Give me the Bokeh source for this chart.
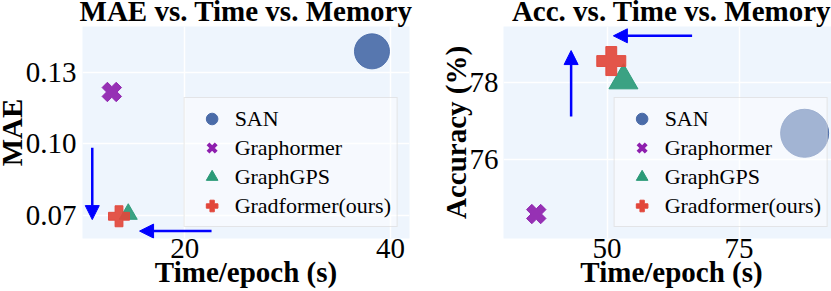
import math
from bokeh.plotting import figure
from bokeh.layouts import row
from bokeh.models import Arrow, NormalHead, FixedTicker, PrintfTickFormatter, Range1d, LegendItem, Legend
from bokeh.embed import file_html
from bokeh.resources import INLINE

# ---------------- data ----------------
models = ["SAN", "Graphormer", "GraphGPS", "Gradformer(ours)"]

mae_time = [38.2, 12.9, 14.5, 13.6]
mae_values = [0.1387, 0.1217, 0.0706, 0.0697]
mae_y_ticks = [0.07, 0.10, 0.13]
mae_x_ticks = [20, 40]

acc_time = [87.4, 36.6, 53.1, 50.8]
acc_values = [76.68, 74.60, 78.04, 78.54]
acc_y_ticks = [76, 78]
acc_x_ticks = [50, 75]

# arrow positions (data space): x_start, y_start, x_end, y_end
mae_arrows = [(11.0, 0.0984, 11.0, 0.0683), (22.6, 0.0635, 15.6, 0.0635)]
acc_arrows = [(43.2, 77.11, 43.2, 78.81), (66.1, 79.19, 51.2, 79.19)]

# ---------------- style ----------------
FONT = "Liberation Serif"
colors = ["#4a6ba8", "#8e1fae", "#2b9a78", "#e2473b"]
markers = ["circle", "plus", "triangle", "plus"]
legend_markers = ["circle", "x", "triangle", "plus"]
legend_line_widths = [1, 4, 1, 1]
angles = [0, math.pi / 4, 0, 0]
mae_sizes = [35, 20, 18, 21]
acc_sizes = [48, 20, 29, 29]
NAN = float("nan")


def make_fig(title, xlabel, ylabel, xr, yr, xticks, yticks, width, left, right):
    p = figure(width=width, height=307, output_backend="svg", toolbar_location=None,
               sizing_mode="fixed",
               x_range=Range1d(*xr), y_range=Range1d(*yr),
               min_border_left=left, min_border_right=right,
               min_border_top=26, min_border_bottom=61)
    p.title.text = title
    p.title.align = "center"
    p.title.text_font = FONT
    p.title.text_font_size = "29px"
    p.title.text_font_style = "bold"
    p.title.text_color = "black"
    p.title.standoff = 0
    p.background_fill_color = "#eef5fd"
    p.border_fill_color = "white"
    p.outline_line_color = None
    p.grid.grid_line_color = "white"
    p.grid.grid_line_width = 1.5
    for ax in (p.xaxis[0], p.yaxis[0]):
        ax.axis_line_color = None
        ax.major_tick_line_color = None
        ax.minor_tick_line_color = None
        ax.major_tick_out = 0
        ax.major_tick_in = 0
        ax.minor_tick_out = 0
        ax.major_label_text_font = FONT
        ax.major_label_text_font_size = "29px"
        ax.major_label_text_color = "black"
        ax.axis_label_text_font = FONT
        ax.axis_label_text_font_size = "29px"
        ax.axis_label_text_font_style = "bold"
        ax.axis_label_text_color = "black"
    p.xaxis.ticker = FixedTicker(ticks=xticks)
    p.yaxis.ticker = FixedTicker(ticks=yticks)
    p.xaxis.axis_label = xlabel
    p.yaxis.axis_label = ylabel
    p.xaxis.major_label_standoff = 0
    p.xaxis.axis_label_standoff = -5
    p.yaxis.major_label_standoff = 6
    p.yaxis.axis_label_standoff = -5
    return p


def add_points(p, xs, ys, sizes, arrows):
    items = []
    for i, name in enumerate(models):
        p.scatter(x=[xs[i]], y=[ys[i]], marker=markers[i], size=sizes[i],
                  angle=angles[i], fill_color=colors[i], line_color=colors[i],
                  fill_alpha=0.92, line_alpha=0.92)
        # legend-only renderer (not visible in the plot) so the legend shows the proper symbol
        lr = p.scatter(x=[NAN], y=[NAN], marker=legend_markers[i], fill_color=colors[i],
                       line_color=colors[i], line_width=legend_line_widths[i])
        items.append(LegendItem(label=name, renderers=[lr]))
    for (x0, y0, x1, y1) in arrows:
        p.add_layout(Arrow(end=NormalHead(size=14, fill_color="blue", line_color="blue"),
                           x_start=x0, y_start=y0, x_end=x1, y_end=y1,
                           line_color="blue", line_width=2.5))
    lg = Legend(items=items, location="bottom_right")
    lg.margin = 11
    lg.padding = 6
    lg.spacing = 0
    lg.glyph_width = 42
    lg.glyph_height = 29
    lg.label_height = 29
    lg.label_standoff = 2
    lg.label_text_font = FONT
    lg.label_text_font_size = "22px"
    lg.label_text_color = "black"
    lg.background_fill_color = "white"
    lg.background_fill_alpha = 0.45
    lg.border_line_color = "#cfcfcf"
    lg.border_line_width = 1
    p.add_layout(lg, "center")


p1 = make_fig("MAE vs. Time vs. Memory", "Time/epoch (s)", "MAE",
              (10.05, 41.85), (0.0604, 0.1491), mae_x_ticks, mae_y_ticks,
              423, 83, 6)
p1.yaxis.formatter = PrintfTickFormatter(format="%.2f")
add_points(p1, mae_time, mae_values, mae_sizes, mae_arrows)

p2 = make_fig("Acc. vs. Time vs. Memory", "Time/epoch (s)", "Accuracy (%)",
              (30.4, 94.0), (73.97, 79.43), acc_x_ticks, acc_y_ticks,
              424, 88, 0)
p2.yaxis.major_label_standoff = 5
add_points(p2, acc_time, acc_values, acc_sizes, acc_arrows)

p1.margin = (-8, 0, -8, -8)
p2.margin = (-8, -8, -8, 0)
layout = row(p1, p2)

with open("out.html", "w") as f:
    f.write(file_html(layout, INLINE))
